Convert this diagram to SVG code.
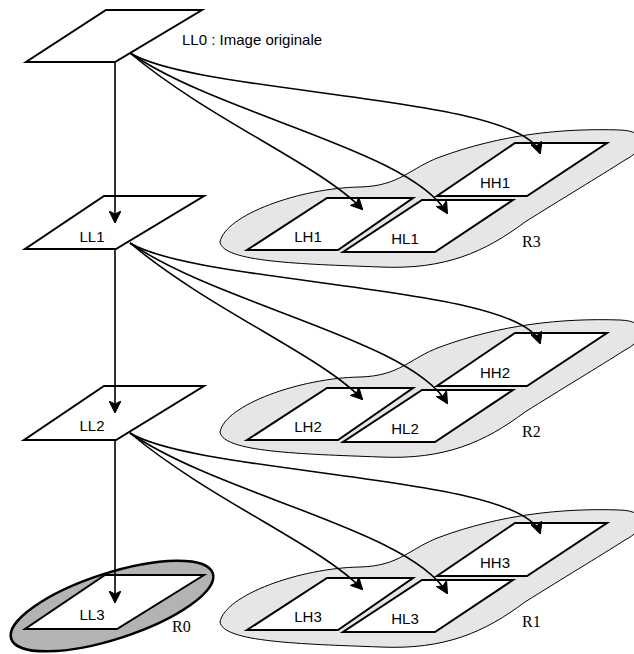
<svg xmlns="http://www.w3.org/2000/svg" width="634" height="654" viewBox="0 0 634 654">
<style>
.bg{fill:#ffffff}
.pg{fill:#ffffff;stroke:#000000;stroke-width:2;stroke-linejoin:miter}
.blob{fill:#e6e6e6;stroke:#000000;stroke-width:1}
.r0{fill:#b3b3b3;stroke:#000000;stroke-width:2.5}
.lbl{font-family:"Liberation Sans",Arial,sans-serif;font-size:15px;fill:#000000}
.rl{font-family:"Liberation Serif","Times New Roman",serif;font-size:16px;fill:#000000}
.edge{fill:none;stroke:#000000;stroke-width:1.6}
</style>
<defs>
<marker id="arr" viewBox="0 0 12 12" refX="11" refY="6" markerWidth="12" markerHeight="12" markerUnits="userSpaceOnUse" orient="auto">
<path d="M0,0 L12,6 L0,12 L3,6 Z" fill="#000000" stroke="#000000" stroke-width="1"/>
</marker>
<path id="blobShape" d="M220,242 C225,215 300,188 360,187 C400,186 410,168 440,157 C500,135 560,128 620,130 C650,131 645,150 625,160 C600,176 560,200 525,222 C485,252 445,270 380,267 C300,264 223,262 220,242 Z"/>
</defs>
<rect class="bg" x="0" y="0" width="634" height="654"/>

<g id="R3">
<use href="#blobShape" class="blob"/>
<text class="rl" x="522" y="247">R3</text>
</g>
<g id="R2" transform="translate(0,190)">
<use href="#blobShape" class="blob"/>
<text class="rl" x="522" y="247">R2</text>
</g>
<g id="R1" transform="translate(0,380)">
<use href="#blobShape" class="blob"/>
<text class="rl" x="522" y="247">R1</text>
</g>
<g id="R0">
<ellipse class="r0" cx="112" cy="606" rx="106" ry="33" transform="rotate(-18 112 606)"/>
<text class="rl" x="172" y="632">R0</text>
</g>

<g id="LL0">
<polygon class="pg" points="106,10 202,10 115,62 26,62"/>
<text class="lbl" x="182" y="45">LL0 : Image originale</text>
</g>
<g id="LL1">
<polygon class="pg" points="104,196 204,196 116,249 25,249"/>
<text class="lbl" x="92" y="242" text-anchor="middle">LL1</text>
</g>
<g id="LL2">
<polygon class="pg" points="104,386 204,386 116,440 24,440"/>
<text class="lbl" x="92" y="431" text-anchor="middle">LL2</text>
</g>
<g id="LL3">
<polygon class="pg" points="105,575 204,575 117,629 25,629"/>
<text class="lbl" x="92" y="620" text-anchor="middle">LL3</text>
</g>

<g id="LH1">
<polygon class="pg" points="327,198 413,198 338,250 247,250"/>
<text class="lbl" x="308" y="242" text-anchor="middle">LH1</text>
</g>
<g id="HL1">
<polygon class="pg" points="422,200 513,200 435,252 343,252"/>
<text class="lbl" x="405" y="244" text-anchor="middle">HL1</text>
</g>
<g id="HH1">
<polygon class="pg" points="515,143 607,143 527,196 437,196"/>
<text class="lbl" x="495" y="188" text-anchor="middle">HH1</text>
</g>

<g id="LH2" transform="translate(0,190)">
<polygon class="pg" points="327,198 413,198 338,250 247,250"/>
<text class="lbl" x="308" y="242" text-anchor="middle">LH2</text>
</g>
<g id="HL2" transform="translate(0,190)">
<polygon class="pg" points="422,200 513,200 435,252 343,252"/>
<text class="lbl" x="405" y="244" text-anchor="middle">HL2</text>
</g>
<g id="HH2" transform="translate(0,190)">
<polygon class="pg" points="515,143 607,143 527,196 437,196"/>
<text class="lbl" x="495" y="188" text-anchor="middle">HH2</text>
</g>

<g id="LH3" transform="translate(0,380)">
<polygon class="pg" points="327,198 413,198 338,250 247,250"/>
<text class="lbl" x="308" y="242" text-anchor="middle">LH3</text>
</g>
<g id="HL3" transform="translate(0,380)">
<polygon class="pg" points="422,200 513,200 435,252 343,252"/>
<text class="lbl" x="405" y="244" text-anchor="middle">HL3</text>
</g>
<g id="HH3" transform="translate(0,380)">
<polygon class="pg" points="515,143 607,143 527,196 437,196"/>
<text class="lbl" x="495" y="188" text-anchor="middle">HH3</text>
</g>

<g id="connectors">
<path class="edge" marker-end="url(#arr)" d="M115,62 L115,222"/>
<path class="edge" marker-end="url(#arr)" d="M115,249 L115,412"/>
<path class="edge" marker-end="url(#arr)" d="M115,440 L115,602"/>
<g id="row1">
<path class="edge" marker-end="url(#arr)" d="M130,53 C210,120 320,165 362,209"/>
<path class="edge" marker-end="url(#arr)" d="M130,53 C220,115 410,150 447,213"/>
<path class="edge" marker-end="url(#arr)" d="M130,53 C200,95 520,95 540,153"/>
</g>
<g id="row2" transform="translate(0,190)">
<path class="edge" marker-end="url(#arr)" d="M130,53 C210,120 320,165 362,209"/>
<path class="edge" marker-end="url(#arr)" d="M130,53 C220,115 410,150 447,213"/>
<path class="edge" marker-end="url(#arr)" d="M130,53 C200,95 520,95 540,153"/>
</g>
<g id="row3" transform="translate(0,380)">
<path class="edge" marker-end="url(#arr)" d="M130,53 C210,120 320,165 362,209"/>
<path class="edge" marker-end="url(#arr)" d="M130,53 C220,115 410,150 447,213"/>
<path class="edge" marker-end="url(#arr)" d="M130,53 C200,95 520,95 540,153"/>
</g>
</g>
</svg>
